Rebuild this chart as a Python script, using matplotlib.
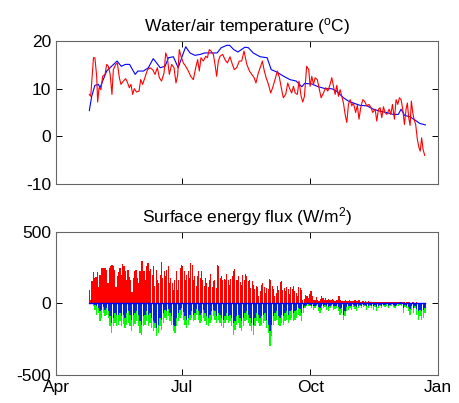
import numpy as np
import matplotlib
matplotlib.use('Agg')
import matplotlib.pyplot as plt
import matplotlib.dates as mdates
from datetime import datetime

plt.rcParams['font.family'] = 'Liberation Sans'
plt.rcParams['mathtext.fontset'] = 'custom'
plt.rcParams['mathtext.rm'] = 'Liberation Sans'
plt.rcParams['mathtext.it'] = 'Liberation Sans'
plt.rcParams['axes.unicode_minus'] = False

# days since 1 April
water_day = [24, 25.7, 28, 30.5, 31.7, 34, 36.5, 40, 44, 47, 50, 53, 57, 59, 63, 66.5, 70, 72.5, 75,
             78.5, 81, 84.5, 88, 90.5, 93.4, 96.5, 100, 104, 107, 111, 116, 119, 123, 125, 128, 131,
             136, 138.5, 142, 147, 152, 155, 159, 164, 168.5, 173, 177, 179, 184, 189, 194, 198.5,
             202, 207, 210.5, 214, 219, 224, 228.5, 233, 238, 243, 246.5, 248.5, 251, 255, 258.6,
             262, 266]
water_temp = [5.4, 8.4, 10.7, 10.9, 10.2, 11.9, 13.7, 14.7, 15.8, 14.7, 15.1, 15.1, 13.0, 13.7, 13.7,
              14.4, 16.3, 15.4, 14.4, 14.7, 16.5, 16.7, 14.4, 16.5, 18.8, 17.5, 17.0, 17.2, 17.5, 17.5,
              17.5, 18.6, 19.1, 19.1, 18.2, 17.7, 18.7, 18.6, 17.5, 16.7, 16.5, 14.0, 13.5, 12.6, 11.9,
              11.6, 10.4, 11.1, 11.0, 10.4, 10.0, 10.0, 9.5, 8.1, 7.4, 7.0, 6.5, 6.4, 5.7, 5.3, 5.0,
              4.6, 4.6, 5.7, 4.4, 4.1, 3.4, 2.7, 2.4]

air_day = [24, 25, 27, 28, 29.3, 30, 31, 32.4, 33.6, 35.3, 36.5, 37.7, 39, 40.3, 41.3, 43, 44.2, 45.6,
           46.8, 48.5, 50.2, 51.6, 52.8, 54, 55.2, 56.4, 58, 59.8, 61, 62.4, 64, 65.8, 67.7, 69.6,
           71.3, 73, 74.4, 76, 77.8, 79, 80.2, 81.6, 83.3, 85, 86.4, 87.6, 88.8, 90, 91.7, 93.4, 95.3,
           97.2, 98.9, 100.6, 102, 103.2, 104.4, 106.1, 107.8, 109, 110.4, 111.6, 113.3, 114.5, 115.7,
           116.9, 118.1, 120, 121.7, 123.4, 125.3, 127, 128.4, 130.1, 132, 133.7, 135.4, 137.4, 139.3,
           141, 142.7, 144, 145.7, 147.4, 148.6, 149.8, 151.3, 153, 154.6, 156, 157.7, 159.4, 160.9,
           162.5, 163.7, 165.4, 166.9, 168, 169.7, 171, 172.2, 173.8, 175, 176.5, 177.7, 178.9, 180.5,
           182, 183, 184.2, 185.4, 186.6, 188.2, 189.7, 190.9, 192.6, 194.2, 195.7, 197.4, 198.6,
           199.8, 201, 202.2, 203.4, 204.6, 205.8, 207, 208.2, 209.4, 210.6, 211.8, 213, 214.2, 215.8,
           217, 218.2, 219.4, 220.9, 222.1, 223.8, 225.4, 226.9, 228.1, 229.8, 231, 232.2, 233.4,
           234.6, 235.8, 237, 238.2, 239.9, 241.1, 242.3, 243.7, 244.9, 246.1, 247.3, 248.5, 249.7,
           250.9, 252.1, 253, 254, 255, 255.9, 256.9, 257.8, 259, 260.2, 261.4, 262.3, 263.3, 264.3,
           265.5]
air_temp = [8.8, 8.4, 16.5, 16.5, 12.6, 7.2, 10.2, 9.8, 12.6, 13.0, 15.1, 14.7, 13.0, 8.8, 14.0, 15.1,
            15.4, 12.3, 10.9, 11.6, 12.1, 11.2, 10.2, 10.9, 8.8, 10.0, 9.3, 9.5, 11.9, 10.9, 12.3, 13.9,
            14.4, 14.0, 13.0, 14.4, 12.3, 11.6, 13.3, 17.5, 16.5, 13.0, 15.1, 14.4, 11.2, 12.8, 18.2,
            16.8, 15.4, 14.7, 13.7, 12.5, 11.9, 14.4, 16.1, 13.7, 16.5, 15.8, 16.8, 16.5, 18.2, 17.9,
            17.2, 15.1, 12.6, 15.8, 16.8, 17.2, 16.1, 15.4, 16.7, 15.1, 14.0, 14.4, 15.8, 15.8, 17.9,
            15.1, 13.7, 13.0, 12.3, 11.2, 13.3, 14.7, 15.8, 14.0, 12.3, 10.9, 9.1, 10.2, 11.9, 13.7,
            12.3, 9.8, 8.1, 8.8, 11.2, 10.2, 9.1, 10.5, 9.1, 8.8, 11.6, 8.4, 7.2, 8.4, 14.7, 14.0, 10.5,
            12.6, 10.9, 12.3, 11.9, 9.8, 8.1, 9.1, 10.2, 9.5, 10.9, 12.3, 10.5, 8.8, 10.7, 8.4, 9.8,
            8.4, 7.0, 4.6, 2.9, 6.7, 7.7, 6.4, 7.0, 5.0, 6.5, 3.6, 6.0, 7.7, 7.4, 6.4, 6.7, 6.0, 5.0,
            5.7, 3.2, 5.7, 6.0, 3.9, 6.2, 5.0, 4.6, 5.7, 4.6, 6.7, 3.6, 7.7, 6.7, 8.1, 7.7, 5.7, 2.5,
            5.7, 7.0, 3.9, 2.3, 7.4, 5.0, 3.6, 2.5, -0.6, -2.4, -3.1, -0.3, -2.7, -4.0]

# surface energy flux (W/m2), roughly daily from 24 Apr to 22 Dec
flux_pos = [95, 25, 153, 216, 177, 184, 216, 114, 200, 247, 247, 247, 247, 235, 142, 247, 263, 270,
            258, 235, 114, 188, 216, 247, 200, 274, 263, 223, 165, 230, 184, 165, 77, 177, 223, 235,
            177, 142, 223, 298, 293, 223, 165, 263, 281, 223, 240, 200, 258, 119, 235, 165, 142, 200,
            286, 177, 223, 188, 230, 258, 142, 177, 142, 95, 165, 223, 95, 165, 247, 270, 258, 223,
            165, 200, 223, 177, 281, 270, 165, 188, 119, 188, 223, 177, 223, 165, 119, 177, 142, 114,
            165, 207, 114, 153, 165, 107, 270, 258, 177, 193, 165, 170, 165, 207, 165, 130, 170, 188,
            223, 240, 165, 165, 188, 147, 130, 200, 165, 207, 188, 153, 165, 107, 153, 130, 100, 119,
            114, 49, 84, 130, 142, 114, 72, 107, 100, 170, 160, 119, 100, 49, 72, 123, 95, 147, 153,
            95, 107, 84, 114, 100, 67, 114, 100, 123, 84, 72, 49, 114, 107, 95, 26, 30, 60, 49, 37, 67,
            84, 49, 26, 26, 44, 26, 14, 30, 53, 37, 21, 37, 21, 30, 26, 26, 30, 26, 14, 21, 26, 49, 21,
            14, 19, 19, 21, 19, 14, 21, 19, 14, 19, 23, 16, 14, 21, 12, 12, 14, 12, 14, 12, 14, 9, 12,
            7, 12, 9, 12, 9, 7, 12, 7, 9, 12, 7, 7, 9, 7, 9, 7, 9, 7, 9, 7, 12, 7, 7, 9, 7, 5, 7, 7, 9,
            5, 7, 7, 5, 7, 5, 5, 5, 5, 5, 5]
flux_total_neg = [0, 0, -16, -44, -79, -67, -126, -102, -67, -91, -79, -102, -160, -207, -160, -137,
                  -160, -149, -126, -160, -142, -172, -149, -137, -160, -195, -156, -142, -126, -160,
                  -207, -219, -160, -149, -126, -160, -137, -172, -195, -172, -230, -207, -160, -184,
                  -137, -102, -114, -91, -126, -149, -195, -207, -160, -126, -102, -79, -114, -149,
                  -172, -149, -114, -102, -126, -114, -79, -114, -137, -126, -102, -126, -149, -160,
                  -137, -114, -91, -114, -137, -114, -137, -160, -172, -137, -114, -137, -126, -160,
                  -219, -184, -149, -137, -172, -195, -160, -126, -114, -137, -160, -195, -219, -160,
                  -126, -137, -160, -149, -137, -126, -172, -207, -300, -230, -149, -126, -114, -149,
                  -160, -137, -149, -126, -114, -137, -114, -102, -126, -114, -102, -79, -91, -126,
                  -67, -33, -21, -16, -21, -33, -44, -33, -21, -56, -67, -44, -33, -26, -44, -56, -33,
                  -21, -44, -40, -33, -56, -79, -67, -114, -91, -56, -44, -33, -44, -26, -40, -56, -33,
                  -21, -33, -26, -21, -44, -33, -21, -33, -44, -26, -56, -33, -21, -33, -21, -26, -16,
                  -33, -21, -16, -26, -33, -21, -16, -9, -16, -67, -26, -33, -56, -79, -44, -67, -33,
                  -79, -114, -91, -114, -102, -67]
flux_neg = [5, 25, -5, -10, -21, -33, -56, -44, -26, -44, -33, -56, -91, -137, -102, -67, -79, -79,
            -67, -91, -79, -102, -67, -56, -79, -114, -79, -67, -56, -79, -126, -149, -91, -79, -56,
            -79, -67, -102, -126, -137, -172, -149, -102, -114, -67, -44, -56, -40, -67, -91, -149,
            -156, -102, -67, -44, -33, -63, -91, -114, -102, -79, -56, -79, -67, -40, -56, -79, -67,
            -44, -67, -91, -102, -79, -56, -44, -56, -91, -67, -79, -102, -114, -91, -67, -91, -79,
            -102, -137, -126, -91, -79, -102, -126, -102, -67, -56, -79, -102, -137, -149, -102, -67,
            -79, -102, -86, -79, -67, -114, -149, -195, -149, -91, -67, -56, -91, -102, -79, -91, -67,
            -56, -79, -56, -44, -67, -56, -44, -33, -40, -67, -33, -16, -9, -7, -12, -16, -21, -16, -9,
            -26, -33, -21, -16, -12, -21, -26, -16, -9, -21, -19, -16, -26, -40, -33, -79, -56, -26,
            -21, -16, -21, -12, -19, -26, -16, -9, -16, -12, -9, -21, -16, -9, -16, -21, -12, -26, -16,
            -9, -16, -9, -12, -7, -16, -9, -7, -12, -16, -9, -7, 12, -7, -33, -12, -16, -26, -40, -21,
            -33, -16, -40, -56, -44, -56, -49, -33]

t0 = mdates.date2num(datetime(2005, 4, 1))
t_end = mdates.date2num(datetime(2006, 1, 1))

fig = plt.figure(figsize=(4.59, 4.03), dpi=100)
ax1 = fig.add_axes([0.122, 0.5434, 0.832, 0.3548])
ax2 = fig.add_axes([0.122, 0.0695, 0.832, 0.3556])

# top panel: water (blue) and air (red) temperature
ax1.plot(t0 + np.array(water_day), water_temp, color='#0000ff', lw=0.8)
ax1.plot(t0 + np.array(air_day), air_temp, color='#ff0000', lw=0.8)
ax1.set_ylim(-10, 20)
ax1.set_yticks([-10, 0, 10, 20])
ax1.set_title(r'Water/air temperature ($^{\rm o}$C)', fontsize=12.5, pad=7)

# bottom panel: bars
t_pos = t0 + np.linspace(24.0, 265.3, len(flux_pos))
t_tot = t0 + np.linspace(24.5, 265.8, len(flux_total_neg))
t_neg = t0 + np.linspace(24.5, 265.8, len(flux_neg))
ax2.bar(t_pos, flux_pos, width=0.82, color='#ff0000', linewidth=0)
ax2.bar(t_tot, flux_total_neg, width=1.0, color='#00ff00', linewidth=0)
ax2.bar(t_neg, flux_neg, width=1.0, color='#0000ff', linewidth=0, alpha=0.85)
ax2.plot([t_pos[0], t_neg[-1]], [0, 0], color='#0000ff', lw=1.0)
ax2.set_ylim(-500, 500)
ax2.set_yticks([-500, 0, 500])
ax2.set_title(r'Surface energy flux (W/m$^2$)', fontsize=12.5, pad=7)

for ax in (ax1, ax2):
    ax.set_xlim(t0, t_end)
    ax.xaxis.set_major_locator(mdates.MonthLocator(bymonth=[1, 4, 7, 10]))
    ax.xaxis.set_major_formatter(mdates.DateFormatter('%b'))
    ax.tick_params(direction='in', top=True, right=True, length=4, width=0.7,
                   labelsize=12.5, color='k')
    for s in ax.spines.values():
        s.set_color('#666666')
        s.set_linewidth(0.8)
ax1.tick_params(labelbottom=False)

fig.savefig('out.png', dpi=100)
